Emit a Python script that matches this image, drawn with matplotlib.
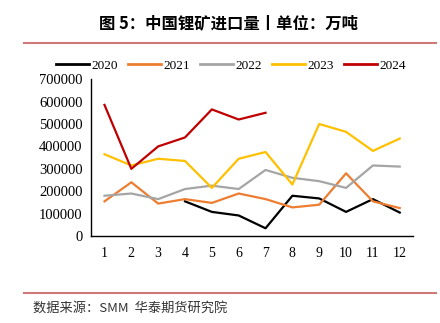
import matplotlib

matplotlib.use("Agg")
import matplotlib.pyplot as plt
from matplotlib.lines import Line2D

months = list(range(1, 13))
tick_labels = [str(m) for m in months]

# 2020 starts in April
months_2020 = [4, 5, 6, 7, 8, 9, 10, 11, 12]
imports_2020 = [155000, 108000, 92000, 35000, 180000, 168000, 108000, 165000, 105000]
imports_2021 = [155000, 240000, 145000, 165000, 148000, 190000, 165000, 128000, 140000, 280000, 155000, 125000]
imports_2022 = [180000, 190000, 165000, 210000, 225000, 210000, 295000, 260000, 245000, 215000, 315000, 310000]
imports_2023 = [365000, 315000, 345000, 335000, 215000, 345000, 375000, 230000, 500000, 465000, 380000, 435000]
months_2024 = [1, 2, 3, 4, 5, 6, 7]
imports_2024 = [585000, 300000, 400000, 440000, 565000, 520000, 550000]

series = [
    ("2020", months_2020, imports_2020, "#000000"),
    ("2021", months, imports_2021, "#ED7D31"),
    ("2022", months, imports_2022, "#A5A5A5"),
    ("2023", months, imports_2023, "#FFC000"),
    ("2024", months_2024, imports_2024, "#C00000"),
]

serif = ["Liberation Serif", "DejaVu Serif"]
cjk = ["Noto Sans CJK SC", "DejaVu Sans"]

fig = plt.figure(figsize=(4.4, 3.23), dpi=100)
ax = fig.add_axes([0.207, 0.269, 0.732, 0.486])

for label, x, y, color in series:
    ax.plot(x, y, color=color, linewidth=1.6, label=label)

ax.set_xlim(0.5, 12.5)
ax.set_ylim(0, 700000)
ax.set_xticks(months)
ax.set_xticklabels(tick_labels)
ax.set_yticks(range(0, 700001, 100000))
ax.set_yticklabels([str(v) for v in range(0, 700001, 100000)])
ax.tick_params(length=0, labelsize=10.5, pad=8)
ax.tick_params(axis="x", labelsize=10)
ax.tick_params(axis="y", pad=6)
for tick in ax.get_xticklabels() + ax.get_yticklabels():
    tick.set_fontfamily(serif)
for side in ("top", "right"):
    ax.spines[side].set_visible(False)
for side in ("left", "bottom"):
    ax.spines[side].set_linewidth(1.0)

handles = [Line2D([], [], color=c, linewidth=2) for _, _, _, c in series]
fig.legend(
    handles,
    [s[0] for s in series],
    loc="center",
    bbox_to_anchor=(0.525, 0.796),
    ncol=5,
    frameon=False,
    prop={"family": serif, "size": 9.5},
    handlelength=2.5,
    handletextpad=0.15,
    columnspacing=0.8,
)

fig.text(0.52, 0.929, "图 5：中国锂矿进口量丨单位：万吨", ha="center", va="center",
         fontsize=11.8, fontweight="bold", family=cjk)
fig.add_artist(Line2D([0.055, 0.99], [0.867, 0.867], color="#D07878", linewidth=1.5))
fig.add_artist(Line2D([0.055, 0.99], [0.093, 0.093], color="#D07878", linewidth=1.5))
fig.text(0.075, 0.042, "数据来源：SMM  华泰期货研究院", ha="left", va="center",
         fontsize=9.5, family=cjk, color="#333333")

fig.savefig("out.png", dpi=100)
